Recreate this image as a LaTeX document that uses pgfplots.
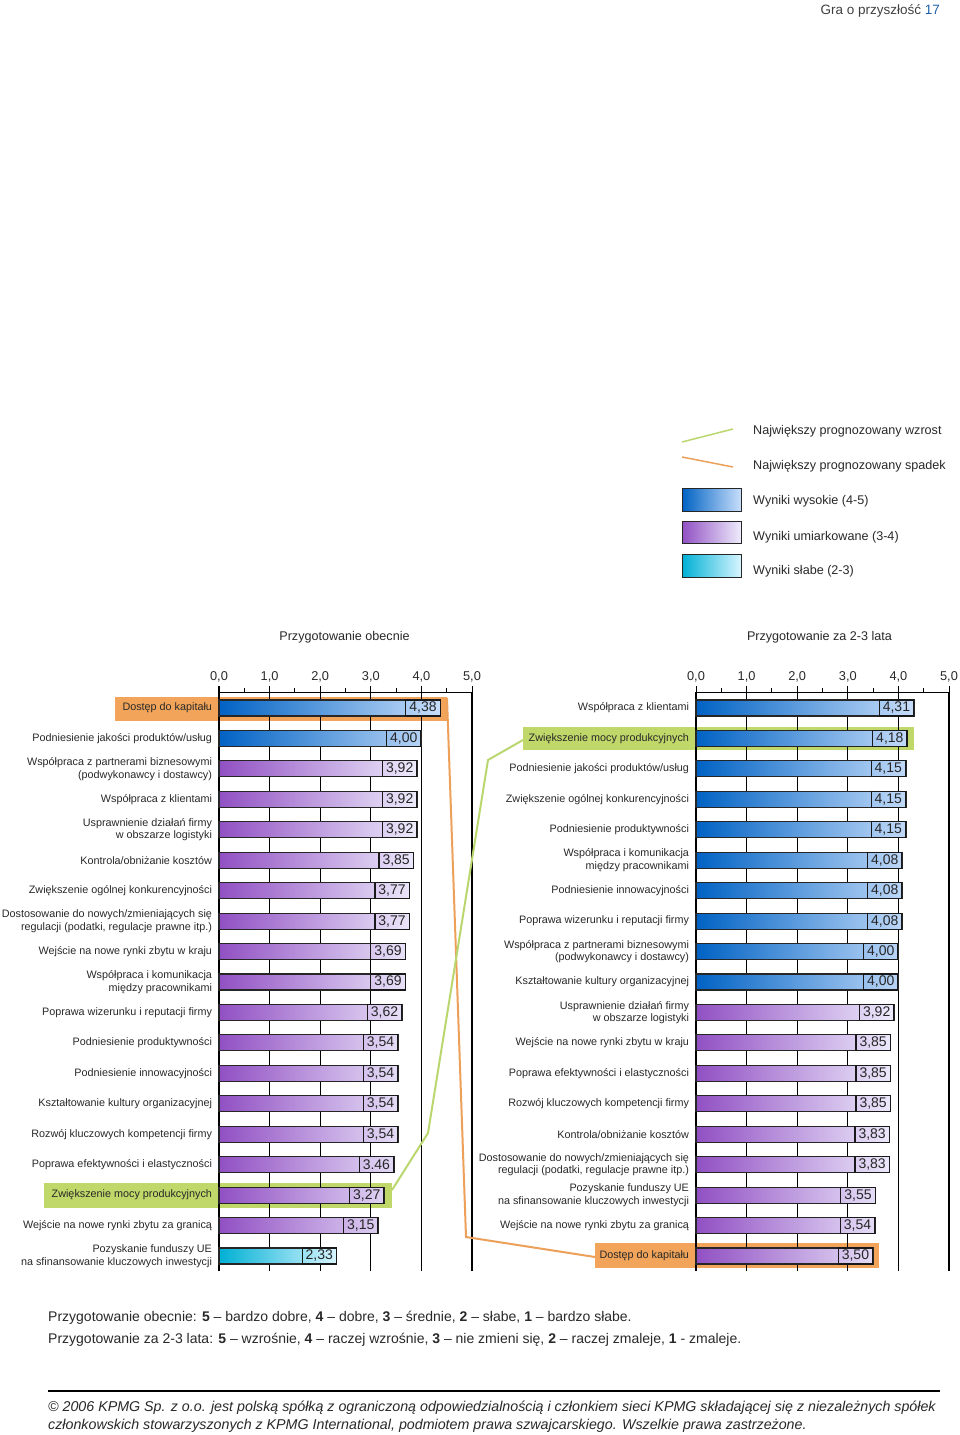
\documentclass[border=0pt]{standalone}
\usepackage{fontspec}
\setmainfont{Liberation Sans}
\usepackage{pgfplots}
\pgfplotsset{compat=1.18}
\definecolor{bluedark}{RGB}{0,98,196}
\definecolor{bluelight}{RGB}{200,222,250}
\definecolor{purpdark}{RGB}{145,80,195}
\definecolor{purplight}{RGB}{238,236,252}
\definecolor{cyandark}{RGB}{0,176,212}
\definecolor{cyanlight}{RGB}{215,245,255}
\definecolor{hlorange}{RGB}{242,165,90}
\definecolor{hlgreen}{RGB}{192,215,105}
\definecolor{lnorange}{RGB}{236,160,90}
\definecolor{lngreen}{RGB}{185,215,110}
\definecolor{txt}{RGB}{40,40,40}
\definecolor{numblue}{RGB}{30,95,170}
\pgfplotsset{
  kpmg/.style={
    scale only axis, width=253pt, height=579pt,
    anchor=north west,
    xmin=0, xmax=5, ymin=-18.493, ymax=0.5255,
    axis x line*=top, axis y line*=left,
    axis line style={black, line width=1pt},
    xtick={0,1,2,3,4,5},
    xticklabels={{0,0},{1,0},{2,0},{3,0},{4,0},{5,0}},
    minor xtick={0.5,1.5,2.5,3.5,4.5},
    tick align=outside,
    major tick length=6pt, minor tick length=4pt,
    xtick style={black, line width=1pt},
    xmajorgrids, major grid style={black, line width=1.2pt},
    ytick={-18,-17,...,0},
    ytick style={draw=none},
    xticklabel style={font=\fontsize{12.8}{14}\selectfont, text=txt, inner sep=1pt, yshift=2.5pt},
    yticklabel style={font=\fontsize{10.8}{12.6}\selectfont, text=txt, align=right, xshift=2.5pt},
    xbar, bar width=16pt,
    point meta=explicit symbolic,
    nodes near coords={\pgfplotspointmeta},
    every node near coord/.append style={anchor=east, draw=black!90, line width=1.1pt, inner xsep=3.5pt, inner ysep=0pt, minimum height=16pt, font=\fontsize{14}{15}\selectfont, text=black!85},
    clip=false,
  },
  bblue/.style={xbar, bar shift=0pt, draw=black!85, line width=1.1pt, left color=bluedark, right color=bluelight},
  bpurp/.style={xbar, bar shift=0pt, draw=black!85, line width=1.1pt, left color=purpdark, right color=purplight},
  bcyan/.style={xbar, bar shift=0pt, draw=black!85, line width=1.1pt, left color=cyandark, right color=cyanlight},
}
\begin{document}
\begin{tikzpicture}[x=1pt,y=1pt]
\useasboundingbox (0,0) rectangle (960,-1435);
% header
\node[anchor=east, font=\fontsize{13.5}{15}\selectfont, text=black!75, inner sep=0pt] at (940,-11) {Gra o przyszłość \textcolor{numblue}{17}};
% legend
\draw[lngreen, line width=1.5pt] (682,-442) -- (733,-429);
\draw[lnorange, line width=1.5pt] (682,-457) -- (733,-467);
\draw[black!85, line width=1pt, left color=bluedark, right color=bluelight] (682,-488) rectangle (741,-511);
\draw[black!85, line width=1pt, left color=purpdark, right color=purplight] (682,-521) rectangle (741,-543);
\draw[black!85, line width=1pt, left color=cyandark, right color=cyanlight] (682,-554) rectangle (741,-577);
\begin{scope}[every node/.style={anchor=west, font=\fontsize{12.6}{14}\selectfont, text=txt, inner sep=0pt}]
\node at (753,-431) {Największy prognozowany wzrost};
\node at (753,-466) {Największy prognozowany spadek};
\node at (753,-501) {Wyniki wysokie (4-5)};
\node at (753,-537) {Wyniki umiarkowane (3-4)};
\node at (753,-571) {Wyniki słabe (2-3)};
\end{scope}
% headings
\node[font=\fontsize{12.6}{14}\selectfont, text=txt] at (344.5,-637) {Przygotowanie obecnie};
\node[font=\fontsize{12.6}{14}\selectfont, text=txt] at (819.5,-637) {Przygotowanie za 2-3 lata};
% highlight boxes
\fill[hlorange] (115,-697) rectangle (447,-721);
\fill[hlgreen] (44,-1183) rectangle (392,-1208);
\fill[hlgreen] (523,-727) rectangle (914,-750);
\fill[hlorange] (595,-1243) rectangle (879,-1268);
% left axis
\begin{axis}[kpmg, at={(219pt,-692pt)},
  yticklabels={{Pozyskanie funduszy UE\\na sfinansowanie kluczowych inwestycji},
    {Wejście na nowe rynki zbytu za granicą},
    {Zwiększenie mocy produkcyjnych},
    {Poprawa efektywności i elastyczności},
    {Rozwój kluczowych kompetencji firmy},
    {Kształtowanie kultury organizacyjnej},
    {Podniesienie innowacyjności},
    {Podniesienie produktywności},
    {Poprawa wizerunku i reputacji firmy},
    {Współpraca i komunikacja\\między pracownikami},
    {Wejście na nowe rynki zbytu w kraju},
    {Dostosowanie do nowych/zmieniających się\\regulacji (podatki, regulacje prawne itp.)},
    {Zwiększenie ogólnej konkurencyjności},
    {Kontrola/obniżanie kosztów},
    {Usprawnienie działań firmy\\w obszarze logistyki},
    {Współpraca z klientami},
    {Współpraca z partnerami biznesowymi\\(podwykonawcy i dostawcy)},
    {Podniesienie jakości produktów/usług},
    {Dostęp do kapitału}}]
\addplot[bblue] coordinates {(4.38,0) [{4,38}] (4.00,-1) [{4,00}]};
\addplot[bpurp] coordinates {(3.92,-2) [{3,92}] (3.92,-3) [{3,92}] (3.92,-4) [{3,92}]
  (3.85,-5) [{3,85}] (3.77,-6) [{3,77}] (3.77,-7) [{3,77}] (3.69,-8) [{3,69}]
  (3.69,-9) [{3,69}] (3.62,-10) [{3,62}] (3.54,-11) [{3,54}] (3.54,-12) [{3,54}]
  (3.54,-13) [{3,54}] (3.54,-14) [{3,54}] (3.46,-15) [{3.46}] (3.27,-16) [{3,27}]
  (3.15,-17) [{3,15}]};
\addplot[bcyan] coordinates {(2.33,-18) [{2,33}]};
\end{axis}
% right axis
\begin{axis}[kpmg, at={(696pt,-692pt)},
  yticklabels={{Dostęp do kapitału},
    {Wejście na nowe rynki zbytu za granicą},
    {Pozyskanie funduszy UE\\na sfinansowanie kluczowych inwestycji},
    {Dostosowanie do nowych/zmieniających się\\regulacji (podatki, regulacje prawne itp.)},
    {Kontrola/obniżanie kosztów},
    {Rozwój kluczowych kompetencji firmy},
    {Poprawa efektywności i elastyczności},
    {Wejście na nowe rynki zbytu w kraju},
    {Usprawnienie działań firmy\\w obszarze logistyki},
    {Kształtowanie kultury organizacyjnej},
    {Współpraca z partnerami biznesowymi\\(podwykonawcy i dostawcy)},
    {Poprawa wizerunku i reputacji firmy},
    {Podniesienie innowacyjności},
    {Współpraca i komunikacja\\między pracownikami},
    {Podniesienie produktywności},
    {Zwiększenie ogólnej konkurencyjności},
    {Podniesienie jakości produktów/usług},
    {Zwiększenie mocy produkcyjnych},
    {Współpraca z klientami}}]
\addplot[bblue] coordinates {(4.31,0) [{4,31}] (4.18,-1) [{4,18}] (4.15,-2) [{4,15}]
  (4.15,-3) [{4,15}] (4.15,-4) [{4,15}] (4.08,-5) [{4,08}] (4.08,-6) [{4,08}]
  (4.08,-7) [{4,08}] (4.00,-8) [{4,00}] (4.00,-9) [{4,00}]};
\addplot[bpurp] coordinates {(3.92,-10) [{3,92}] (3.85,-11) [{3,85}] (3.85,-12) [{3,85}]
  (3.85,-13) [{3,85}] (3.83,-14) [{3,83}] (3.83,-15) [{3,83}] (3.55,-16) [{3,55}]
  (3.54,-17) [{3,54}] (3.50,-18) [{3,50}]};
\end{axis}
% connecting lines
\draw[lnorange, line width=2pt] (447,-698) -- (466,-1237) -- (595,-1257);
\draw[lngreen, line width=2pt] (392,-1190) -- (428,-1133) -- (488,-760) -- (523,-740);
% notes
\begin{scope}[every node/.style={anchor=west, font=\fontsize{14}{16}\selectfont, text=txt, inner sep=0pt}]
\node at (48,-1318) {Przygotowanie obecnie: \textbf{5} – bardzo dobre, \textbf{4} – dobre, \textbf{3} – średnie, \textbf{2} – słabe, \textbf{1} – bardzo słabe.};
\node at (48,-1340) {Przygotowanie za 2-3 lata: \textbf{5} – wzrośnie, \textbf{4} – raczej wzrośnie, \textbf{3} – nie zmieni się, \textbf{2} – raczej zmaleje, \textbf{1} - zmaleje.};
\end{scope}
\draw[black, line width=2pt] (48,-1391) -- (940,-1391);
\begin{scope}[every node/.style={anchor=west, font=\fontsize{14.25}{16}\selectfont\itshape, text=txt, inner sep=0pt}]
\node at (48,-1408) {© 2006 KPMG Sp. z o.o. jest polską spółką z ograniczoną odpowiedzialnością i członkiem sieci KPMG składającej się z niezależnych spółek};
\node at (48,-1426) {członkowskich stowarzyszonych z KPMG International, podmiotem prawa szwajcarskiego. Wszelkie prawa zastrzeżone.};
\end{scope}
\end{tikzpicture}
\end{document}
